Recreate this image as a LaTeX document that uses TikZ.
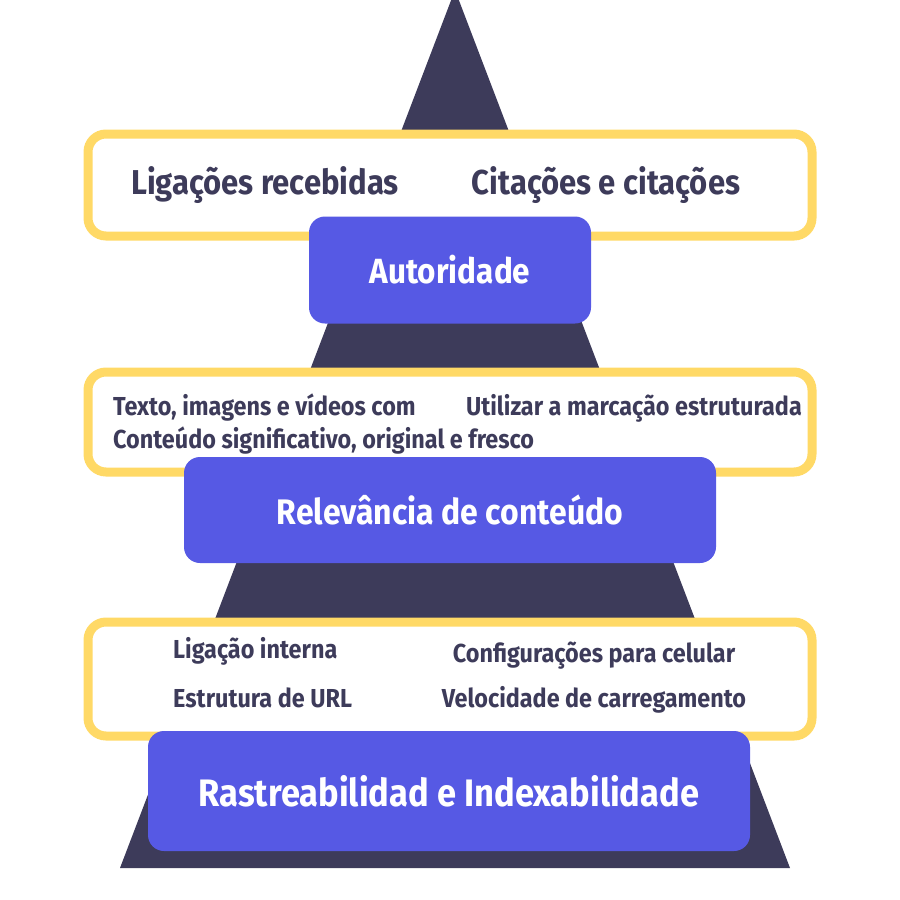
\documentclass[tikz,border=0pt]{standalone}
\usepackage{fontspec}
\setmainfont{Fira Sans}[FakeStretch=0.9]
\usetikzlibrary{positioning}
\definecolor{navy}{HTML}{3D3B5A}
\definecolor{levelblue}{HTML}{5659E4}
\definecolor{framegold}{HTML}{FFD966}

\begin{document}
\begin{tikzpicture}[
        x = 1pt, y = -1pt, inner sep = 0pt,
        every node/.style = {font = \bfseries},
        frame/.style = {draw = framegold, line width = 9pt, fill = white, rounded corners = 18pt, minimum width = 724pt},
        level/.style = {fill = levelblue, rounded corners = 16pt, text = white},
        item/.style = {text = navy}
    ]
      \useasboundingbox (0,0) rectangle (900,900);
      \fill[navy] (455,-10) -- (120,868) -- (790,868) -- cycle;

      % top level
      \node[frame, minimum height = 102pt] (frame_top) at (450,185) {};
      \node[item, anchor = base, font = \bfseries\fontsize{34.5}{38}\selectfont] (lig_rec) at (265,194) {Ligações recebidas};
      \node[item, anchor = base, font = \bfseries\fontsize{34.5}{38}\selectfont] (cit) at (606,194) {Citações e citações};
      \node[level, minimum width = 282pt, minimum height = 107pt, font = \bfseries\fontsize{35}{39}\selectfont] (autor) at (450,270) {Autoridade};

      % middle level
      \node[frame, minimum height = 100pt] (frame_mid) at (450,422) {};
      \node[item, anchor = base west, font = \bfseries\fontsize{26}{30}\selectfont] (texto) at (113,415) {Texto, imagens e vídeos com};
      \node[item, anchor = base west, font = \bfseries\fontsize{26}{30}\selectfont] (conteudo) at (113,448) {Conteúdo significativo, original e fresco};
      \node[item, anchor = base east, font = \bfseries\fontsize{26}{30}\selectfont] (marcacao) at (802,415) {Utilizar a marcação estruturada};
      \node[level, minimum width = 532pt, minimum height = 106pt, font = \bfseries\fontsize{35.5}{39}\selectfont] (relev) at (450,510) {Relevância de conteúdo};

      % bottom level
      \node[frame, minimum height = 114pt] (frame_bot) at (450,679) {};
      \node[item, anchor = base west, font = \bfseries\fontsize{26}{30}\selectfont] (lig_int) at (173,658) {Ligação interna};
      \node[item, anchor = base west, font = \bfseries\fontsize{26}{30}\selectfont] (url) at (173,707) {Estrutura de URL};
      \node[item, anchor = base, font = \bfseries\fontsize{26}{30}\selectfont] (celular) at (594,662) {Configurações para celular};
      \node[item, anchor = base, font = \bfseries\fontsize{26}{30}\selectfont] (veloc) at (594,707) {Velocidade de carregamento};
      \node[level, minimum width = 602pt, minimum height = 120pt, font = \bfseries\fontsize{38.3}{42}\selectfont] (rastreio) at (449,791) {Rastreabilidad e Indexabilidade};
\end{tikzpicture}
\end{document}
